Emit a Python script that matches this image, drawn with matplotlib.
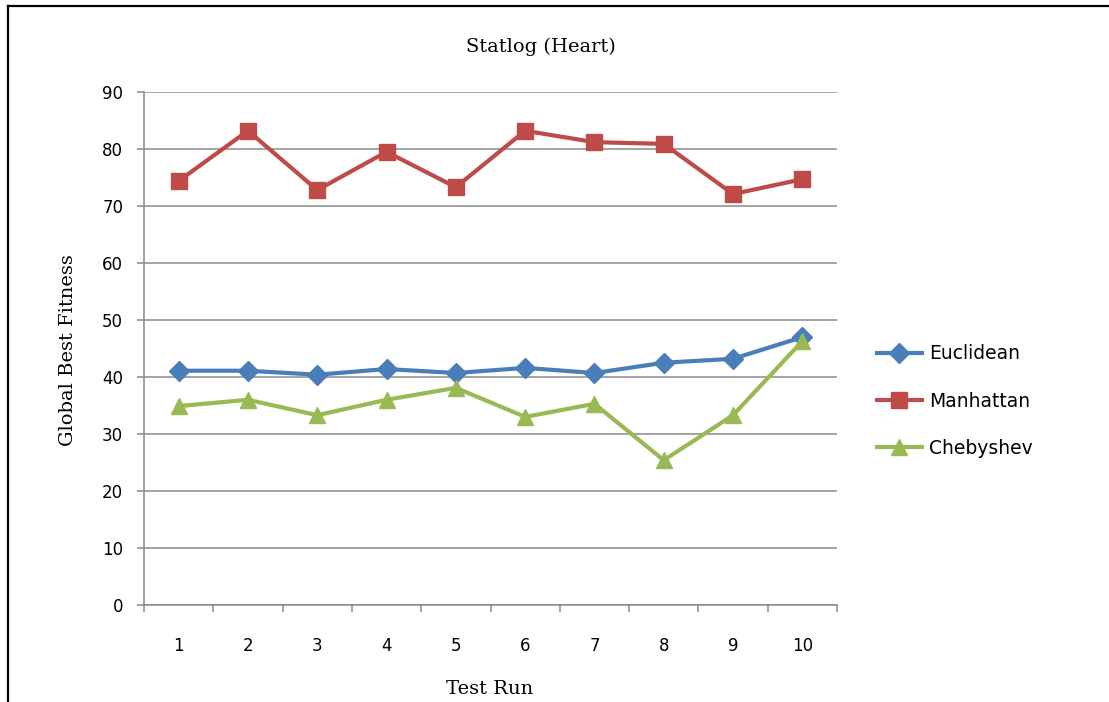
import matplotlib
matplotlib.use("Agg")
import matplotlib.pyplot as plt
from matplotlib.lines import Line2D
import numpy as np

runs = [1, 2, 3, 4, 5, 6, 7, 8, 9, 10]
euclidean = [41.1, 41.1, 40.4, 41.4, 40.7, 41.6, 40.7, 42.5, 43.2, 47.0]
manhattan = [74.4, 83.2, 72.8, 79.5, 73.3, 83.2, 81.2, 80.9, 72.1, 74.7]
chebyshev = [34.9, 36.0, 33.3, 36.0, 38.1, 33.0, 35.3, 25.4, 33.3, 46.3]
y_ticks = [0, 10, 20, 30, 40, 50, 60, 70, 80, 90]

W, H = 1109, 702
fig = plt.figure(figsize=(W / 100, H / 100), dpi=100)
fig.patch.set_facecolor("white")

left, right, top, bottom = 144 / W, 837 / W, 1 - 92 / H, 1 - 605 / H
ax = fig.add_axes([left, bottom, right - left, top - bottom])

grid_c = "#8a8a8a"
x = np.arange(len(runs))

ax.plot(x, euclidean, color="#4a7ebb", lw=3, marker="D", ms=10,
        label="Euclidean", zorder=4)
ax.plot(x, manhattan, color="#be4b48", lw=3, marker="s", ms=11.5,
        label="Manhattan", zorder=4)
ax.plot(x, chebyshev, color="#98b954", lw=3, marker="^", ms=12,
        label="Chebyshev", zorder=5)

ax.set_xlim(-0.5, len(runs) - 0.5)
ax.set_ylim(0, 90)
ax.set_yticks(y_ticks)
ax.yaxis.grid(True, color=grid_c, lw=1.1)
ax.set_axisbelow(True)

for s in ("top", "right"):
    ax.spines[s].set_visible(False)
for s in ("left", "bottom"):
    ax.spines[s].set_color(grid_c)
    ax.spines[s].set_linewidth(1.1)

ax.tick_params(axis="y", direction="out", length=5, width=1.1, color=grid_c,
               pad=10, labelsize=12)
ax.set_xticks(x)
ax.set_xticklabels([str(r) for r in runs])
ax.tick_params(axis="x", which="major", length=0, pad=23, labelsize=12)
ax.set_xticks(np.arange(-0.5, len(runs), 1.0), minor=True)
ax.tick_params(axis="x", which="minor", direction="out", length=5,
               width=1.1, color=grid_c)

serif = ["DejaVu Serif"]
fig.text(541 / W, 1 - 47 / H, "Statlog (Heart)", ha="center", va="center",
         fontsize=14, family=serif)
fig.text(68 / W, 1 - 350 / H, "Global Best Fitness", ha="center",
         va="center", rotation=90, fontsize=14, family=serif)
fig.text(490 / W, 1 - 689 / H, "Test Run", ha="center", va="center",
         fontsize=14, family=serif)

ax.legend(loc="center left", bbox_to_anchor=(869 / W, 1 - 401 / H),
          bbox_transform=fig.transFigure, frameon=False, fontsize=13.5,
          handlelength=2.4, handletextpad=0.4, labelspacing=1.5,
          borderaxespad=0)

# frame lines along the left and top edges
fig.add_artist(Line2D([7.5 / W, 7.5 / W], [0, 1 - 6 / H], color="black",
                      lw=1.6, transform=fig.transFigure))
fig.add_artist(Line2D([7.5 / W, 1], [1 - 6 / H, 1 - 6 / H], color="black",
                      lw=1.6, transform=fig.transFigure))

fig.savefig("out.png", dpi=100)
